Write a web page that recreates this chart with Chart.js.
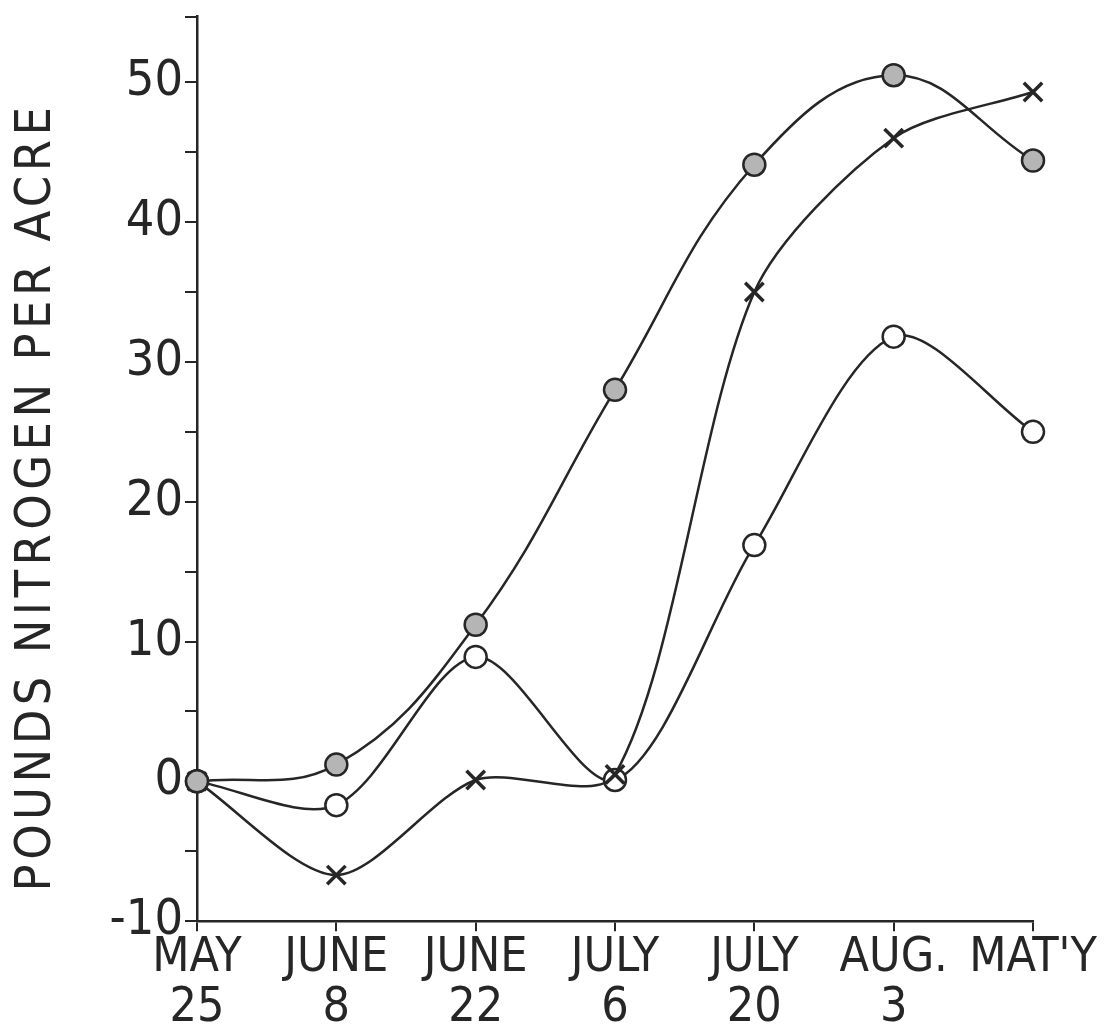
<!DOCTYPE html>
<html>
<head>
<meta charset="utf-8">
<script src="https://cdn.jsdelivr.net/npm/chart.js@4.4.1/dist/chart.umd.min.js"></script>
<style>
  html, body { margin: 0; padding: 0; background: #fff; }
  #wrap { width: 1115px; height: 1036px; position: relative; }
</style>
</head>
<body>
<div id="wrap"><canvas id="chart"></canvas></div>
<script>
// --- data ---
const monthLabels = ['MAY', 'JUNE', 'JUNE', 'JULY', 'JULY', 'AUG.', "MAT'Y"];
const dayLabels   = ['25', '8', '22', '6', '20', '3', ''];

// filled circles (top curve)
const filledCircle = [0, 1.2, 11.2, 28, 44.1, 50.5, 44.4];
// crosses
const crossMarks   = [0, -6.7, 0.1, 0.5, 35, 46, 49.3];
// open circles
const openCircle   = [0, -1.7, 8.9, 0.1, 16.9, 31.8, 25];

const yTitle = 'POUNDS NITROGEN PER ACRE';

const INK = '#262626';
const FONT = "'DejaVu Sans Condensed', 'Liberation Sans Narrow', 'DejaVu Sans', sans-serif";

const labels = monthLabels.map((m, i) => [m, dayLabels[i]]);

function series(data, style, fill, tension) {
  return {
    data,
    borderColor: INK,
    borderWidth: 2.5,
    tension,
    fill: false,
    clip: false,
    pointStyle: style,
    pointRadius: style === 'crossRot' ? 13 : 11,
    pointBorderWidth: style === 'crossRot' ? 3.5 : 2.5,
    pointBorderColor: INK,
    pointBackgroundColor: fill
  };
}

// spaced-out vertical axis title, drawn by hand so letters can be spread
const axisTitle = {
  id: 'axisTitle',
  afterDraw(chart) {
    const { ctx } = chart;
    ctx.save();
    ctx.translate(37, 497);
    ctx.rotate(-Math.PI / 2);
    ctx.font = '50px ' + FONT;
    ctx.letterSpacing = '4.5px';
    ctx.fillStyle = INK;
    ctx.textAlign = 'center';
    ctx.textBaseline = 'middle';
    ctx.fillText(yTitle, 0, 0);
    ctx.restore();
  }
};

new Chart(document.getElementById('chart'), {
  type: 'line',
  data: {
    labels,
    datasets: [
      series(filledCircle, 'circle', '#b5b5b5', 0.4),
      series(crossMarks, 'crossRot', INK, 0.28),
      series(openCircle, 'circle', '#ffffff', 0.3)
    ]
  },
  plugins: [axisTitle],
  options: {
    responsive: true,
    maintainAspectRatio: false,
    animation: false,
    layout: { padding: { left: 0, right: 82, top: 6, bottom: 0 } },
    plugins: { legend: { display: false }, tooltip: { enabled: false } },
    scales: {
      x: {
        offset: false,
        grid: { drawOnChartArea: false, color: INK, lineWidth: 2, tickLength: 10 },
        border: { color: INK, width: 2.5 },
        ticks: {
          color: INK,
          padding: 2,
          maxRotation: 0,
          autoSkip: false,
          font: { family: FONT, size: 48, lineHeight: 1.05 }
        }
      },
      y: {
        min: -10,
        max: 54.7,
        afterFit: (s) => { s.width = 197; },
        grid: { drawOnChartArea: false, color: INK, lineWidth: 2, tickLength: 12 },
        border: { color: INK, width: 2.5 },
        ticks: {
          stepSize: 5,
          color: INK,
          padding: 2,
          font: { family: FONT, size: 50, lineHeight: 0.3 },
          callback: (v) => (Number.isInteger(v) && v % 10 === 0) ? String(v) : ''
        }
      }
    }
  }
});
</script>
</body>
</html>
